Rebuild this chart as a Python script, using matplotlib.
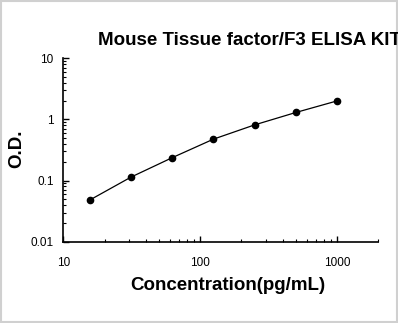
import matplotlib

matplotlib.use("Agg")
import matplotlib.pyplot as plt
from matplotlib.patches import Rectangle
from matplotlib.ticker import LogLocator, NullFormatter, FixedLocator, FixedFormatter

# standard curve: concentration (pg/mL) vs optical density
conc = [15.6, 31.25, 62.5, 125, 250, 500, 1000]
od = [0.048, 0.114, 0.237, 0.476, 0.815, 1.30, 2.01]

x_ticks = [10, 100, 1000]
x_labels = ["10", "100", "1000"]
y_ticks = [0.01, 0.1, 1, 10]
y_labels = ["0.01", "0.1", "1", "10"]

plt.rcParams["font.family"] = ["Liberation Sans", "DejaVu Sans"]

fig = plt.figure(figsize=(3.98, 3.23), dpi=100)
ax = fig.add_axes([63.3 / 398, 81.3 / 323, 315 / 398, 183.4 / 323])

ax.plot(conc, od, color="black", lw=0.9, marker="o", markersize=4.5)

ax.set_xscale("log")
ax.set_yscale("log")
ax.set_xlim(10, 2000)
ax.set_ylim(0.01, 10)

ax.xaxis.set_major_locator(FixedLocator(x_ticks))
ax.xaxis.set_major_formatter(FixedFormatter(x_labels))
ax.yaxis.set_major_locator(FixedLocator(y_ticks))
ax.yaxis.set_major_formatter(FixedFormatter(y_labels))
for axis in (ax.xaxis, ax.yaxis):
    axis.set_minor_locator(LogLocator(base=10, subs=range(2, 10)))
    axis.set_minor_formatter(NullFormatter())

ax.tick_params(which="major", direction="in", length=4, width=1, labelsize=8.5, pad=11)
ax.tick_params(which="minor", direction="in", length=2.5, width=0.8)
ax.tick_params(axis="y", pad=7)

for side in ("top", "right"):
    ax.spines[side].set_visible(False)
for side in ("left", "bottom"):
    ax.spines[side].set_linewidth(1.2)

# axis titles placed where the reference has them
fig.text(228 / 398, 1 - 285 / 323, "Concentration(pg/mL)",
         fontsize=13.5, fontweight="bold", ha="center", va="center")
fig.text(17 / 398, 1 - 149 / 323, "O.D.", rotation=90,
         fontsize=13.5, fontweight="bold", ha="center", va="center")
fig.text(98 / 398, 1 - 45 / 323, "Mouse Tissue factor/F3 ELISA KIT",
         fontsize=13.5, fontweight="bold", ha="left", va="baseline")

fig.patches.append(Rectangle((0.003, 0.004), 0.994, 0.992, transform=fig.transFigure,
                             fill=False, edgecolor="#d0d0d0", lw=1.5))

fig.savefig("out.png", dpi=100)
plt.close(fig)
